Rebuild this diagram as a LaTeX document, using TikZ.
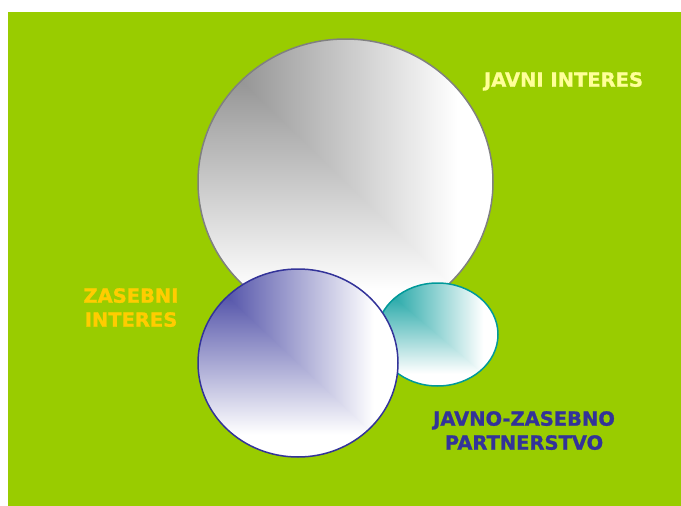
\documentclass[tikz,border=0pt]{standalone}
\usepackage{xcolor}
\usepackage{tikz}
\usepackage{fontspec}
\setmainfont{DejaVu Sans}
\newfontfamily\tagfont{DejaVu Sans Bold}[FakeBold=1.2]
\usetikzlibrary{shapes.geometric}

\definecolor{leaf}{HTML}{99CC00}
\definecolor{pale}{HTML}{FFFF99}
\definecolor{gold}{HTML}{FFCC00}
\definecolor{navy}{HTML}{333399}
\definecolor{teal}{HTML}{009999}
\definecolor{rim}{HTML}{808080}
\colorlet{blobcol}{rim}
\colorlet{blobmid}{rim!65!white}

% corner gradients: dark in the upper left, white towards the lower right
\pgfdeclarehorizontalshading[blobcol,blobmid]{blobh}{100bp}{color(0bp)=(blobcol); color(25bp)=(blobcol); color(40bp)=(blobmid); color(69bp)=(white); color(100bp)=(white)}
\pgfdeclareverticalshading[blobcol,blobmid]{blobv}{100bp}{color(0bp)=(white); color(31bp)=(white); color(60bp)=(blobmid); color(75bp)=(blobcol); color(100bp)=(blobcol)}

\begin{document}
\begin{tikzpicture}
			[x=1pt,y=-1pt,
			 blob/.style={ellipse, draw=#1, line width=1.5pt, inner sep=0pt,
				path picture={
					\colorlet{blobcol}{#1}
					\colorlet{blobmid}{#1!65!white}
					\shade[shading=blobv]
						(path picture bounding box.north west) rectangle (path picture bounding box.south east);
					\shade[shading=blobh]
						(path picture bounding box.north west) -- (path picture bounding box.north east)
						-- (path picture bounding box.south east) -- cycle;
				}},
			 tag/.style={font=\tagfont\fontsize{19.5}{24}\selectfont, align=center, inner sep=0pt, anchor=north}]
			\useasboundingbox[fill=white] (0,0) rectangle (681,506);
			\fill[leaf] (8,12) rectangle (681,506);
			% the three interests
			\node[blob=rim, minimum width=295pt, minimum height=286pt] (javni) at (345.5,182) {};
			\node[blob=teal, minimum width=121pt, minimum height=103pt] (jzp) at (437.5,334.5) {};
			\node[blob=navy, minimum width=200pt, minimum height=188pt] (zasebni) at (298,363) {};
			% labels
			\node[tag, text=pale] (javnitext) at (563.5,72) {JAVNI INTERES};
			\node[tag, text=gold] (zasebnitext) at (131,288) {ZASEBNI\\INTERES};
			\node[tag, text=navy] (jzptext) at (524,411) {JAVNO-ZASEBNO\\PARTNERSTVO};
		\end{tikzpicture}
\end{document}
